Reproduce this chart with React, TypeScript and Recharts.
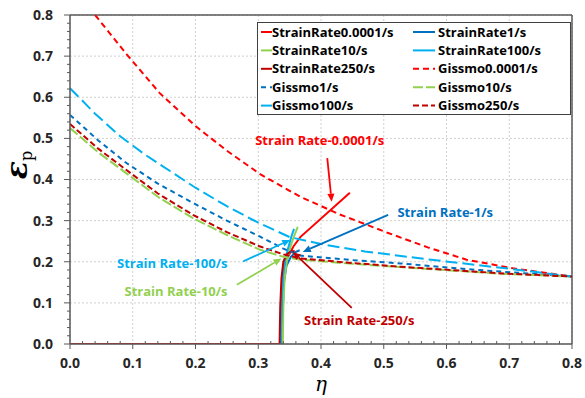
import React from 'react';
import {
  LineChart,
  Line,
  XAxis,
  YAxis,
  CartesianGrid,
  ReferenceLine,
  ReferenceDot,
} from 'recharts';

type Row = [number, number];

// Colours of the five strain rates
const RED = '#FF0000';
const BLUE = '#0070C0';
const GREEN = '#92D050';
const LIGHT_BLUE = '#00B0F0';
const DARK_RED = '#C00000';
const AXIS = '#595959';

// Measured strain paths: [stress triaxiality η, plastic strain εp]
const pathRate0001: Row[] = [
  [0, 0], [0.335, 0], [0.336, 0.06], [0.337, 0.13], [0.34, 0.18], [0.345, 0.205],
  [0.356, 0.237], [0.367, 0.26], [0.446, 0.368],
];
const pathRate1: Row[] = [
  [0.338, 0], [0.339, 0.08], [0.341, 0.15], [0.345, 0.19], [0.352, 0.212], [0.36, 0.224], [0.366, 0.228],
];
const pathRate10: Row[] = [
  [0.339, 0], [0.34, 0.09], [0.342, 0.16], [0.346, 0.205], [0.352, 0.24], [0.357, 0.262], [0.363, 0.285],
];
const pathRate100: Row[] = [
  [0.336, 0], [0.337, 0.09], [0.339, 0.16], [0.343, 0.205], [0.348, 0.235], [0.353, 0.262], [0.357, 0.28],
];
const pathRate250: Row[] = [
  [0.334, 0], [0.335, 0.09], [0.337, 0.16], [0.34, 0.2], [0.345, 0.218], [0.352, 0.225], [0.358, 0.226],
];

// GISSMO failure curves: [η, failure strain]
const gissmo0001: Row[] = [
  [0.04, 0.8], [0.09, 0.705], [0.143, 0.61], [0.2, 0.53], [0.25, 0.47], [0.303, 0.413],
  [0.367, 0.358], [0.43, 0.315], [0.507, 0.27], [0.57, 0.235], [0.632, 0.205], [0.706, 0.184], [0.8, 0.164],
];
const gissmo1: Row[] = [
  [0, 0.557], [0.045, 0.495], [0.09, 0.44], [0.14, 0.39], [0.196, 0.343], [0.25, 0.3], [0.303, 0.261],
  [0.34, 0.232], [0.367, 0.215], [0.45, 0.204], [0.526, 0.196], [0.65, 0.18], [0.8, 0.164],
];
const gissmo10: Row[] = [
  [0, 0.525], [0.045, 0.466], [0.09, 0.415], [0.14, 0.358], [0.196, 0.306], [0.25, 0.265], [0.303, 0.229],
  [0.34, 0.212], [0.367, 0.205], [0.45, 0.195], [0.526, 0.187], [0.685, 0.171], [0.8, 0.164],
];
const gissmo100: Row[] = [
  [0, 0.622], [0.04, 0.56], [0.08, 0.505], [0.12, 0.46], [0.16, 0.42], [0.2, 0.38], [0.25, 0.335],
  [0.3, 0.295], [0.35, 0.26], [0.4, 0.243], [0.47, 0.225], [0.58, 0.204], [0.7, 0.183], [0.8, 0.164],
];
const gissmo250: Row[] = [
  [0, 0.535], [0.045, 0.475], [0.09, 0.423], [0.14, 0.366], [0.196, 0.314], [0.25, 0.272], [0.303, 0.237],
  [0.34, 0.218], [0.367, 0.208], [0.45, 0.197], [0.526, 0.188], [0.685, 0.172], [0.8, 0.164],
];

// Axis tick values
const MAJOR_TICKS = [0, 0.1, 0.2, 0.3, 0.4, 0.5, 0.6, 0.7, 0.8];
const MINOR_PER_MAJOR = 5;

type Series = { name: string; color: string; dash?: string; rows: Row[] };

const SERIES: Series[] = [
  { name: 'StrainRate0.0001/s', color: RED, rows: pathRate0001 },
  { name: 'StrainRate1/s', color: BLUE, rows: pathRate1 },
  { name: 'StrainRate10/s', color: GREEN, rows: pathRate10 },
  { name: 'StrainRate100/s', color: LIGHT_BLUE, rows: pathRate100 },
  { name: 'StrainRate250/s', color: DARK_RED, rows: pathRate250 },
  { name: 'Gissmo0.0001/s', color: RED, dash: '6 4', rows: gissmo0001 },
  { name: 'Gissmo1/s', color: BLUE, dash: '5 4', rows: gissmo1 },
  { name: 'Gissmo10/s', color: GREEN, dash: '10 3', rows: gissmo10 },
  { name: 'Gissmo100/s', color: LIGHT_BLUE, dash: '12 5', rows: gissmo100 },
  { name: 'Gissmo250/s', color: DARK_RED, dash: '6 3', rows: gissmo250 },
];

// Callouts: text centre, arrow tail and arrow tip, all in data units
type Callout = { text: string; color: string; at: Row; tail: Row; tip: Row };
const CALLOUTS: Callout[] = [
  { text: 'Strain Rate-0.0001/s', color: RED, at: [0.398, 0.494], tail: [0.41, 0.452], tip: [0.417, 0.346] },
  { text: 'Strain Rate-1/s', color: BLUE, at: [0.598, 0.319], tail: [0.507, 0.314], tip: [0.371, 0.224] },
  { text: 'Strain Rate-100/s', color: LIGHT_BLUE, at: [0.163, 0.197], tail: [0.276, 0.201], tip: [0.351, 0.253] },
  { text: 'Strain Rate-10/s', color: GREEN, at: [0.169, 0.127], tail: [0.266, 0.144], tip: [0.337, 0.208] },
  { text: 'Strain Rate-250/s', color: DARK_RED, at: [0.461, 0.058], tail: [0.449, 0.088], tip: [0.355, 0.224] },
];

const FONT = "'Open Sans', sans-serif";

const toPoints = (rows: Row[]) => rows.map(([x, y]) => ({ x, y }));

const allTicks: number[] = [];
for (let i = 0; i < MAJOR_TICKS.length - 1; i++) {
  const a = MAJOR_TICKS[i];
  const step = (MAJOR_TICKS[i + 1] - a) / MINOR_PER_MAJOR;
  for (let k = 0; k < MINOR_PER_MAJOR; k++) allTicks.push(Math.round((a + k * step) * 1000) / 1000);
}
allTicks.push(MAJOR_TICKS[MAJOR_TICKS.length - 1]);

const isMajor = (v: number) => MAJOR_TICKS.some((m) => Math.abs(m - v) < 1e-6);

const YTick = (props: any) => {
  const { x, y, payload } = props;
  const major = isMajor(payload.value);
  return (
    <g>
      <line x1={x - (major ? 6 : 3)} x2={x} y1={y} y2={y} stroke={AXIS} strokeWidth={1} />
      {major && (
        <text x={x - 17} y={y} dy="0.35em" textAnchor="end" fontFamily={FONT} fontWeight={700} fontSize={14} fill="#262626">
          {payload.value.toFixed(1)}
        </text>
      )}
    </g>
  );
};

const XTick = (props: any) => {
  const { x, y, payload } = props;
  const major = isMajor(payload.value);
  return (
    <g>
      {major ? (
        <line x1={x} x2={x} y1={y} y2={y + 5} stroke={AXIS} strokeWidth={1} />
      ) : (
        <line x1={x} x2={x} y1={y - 3} y2={y} stroke={AXIS} strokeWidth={1} />
      )}
      {major && (
        <text x={x} y={y + 19} dy="0.35em" textAnchor="middle" fontFamily={FONT} fontWeight={700} fontSize={14} fill="#262626">
          {payload.value.toFixed(1)}
        </text>
      )}
    </g>
  );
};

const XLabel = (props: any) => {
  const vb = props.viewBox;
  return (
    <text x={vb.x + vb.width / 2} y={391} textAnchor="middle" fontFamily="'DejaVu Serif', serif" fontStyle="italic" fontSize={20} fill="#000">
      η
    </text>
  );
};

const YLabel = () => (
  <text
    x={27}
    y={165}
    transform="rotate(-90, 27, 165)"
    textAnchor="middle"
    fontFamily="'DejaVu Serif', serif"
    fontStyle="italic"
    fontWeight={700}
    fontSize={30}
    fill="#000"
  >
    ε
    <tspan fontSize={16} fontStyle="normal" fontWeight={400} dy={5}>
      p
    </tspan>
  </text>
);

const Arrow = (color: string) => (props: any) => {
  const { x1, y1, x2, y2 } = props;
  const ang = Math.atan2(y2 - y1, x2 - x1);
  const len = 8;
  const half = 3.5;
  const bx = x2 - len * Math.cos(ang);
  const by = y2 - len * Math.sin(ang);
  const px = -Math.sin(ang) * half;
  const py = Math.cos(ang) * half;
  return (
    <g>
      <line x1={x1} y1={y1} x2={bx} y2={by} stroke={color} strokeWidth={1.8} />
      <polygon points={`${x2},${y2} ${bx + px},${by + py} ${bx - px},${by - py}`} fill={color} />
    </g>
  );
};

const CalloutText = (text: string, color: string) => (props: any) => (
  <text x={props.cx} y={props.cy} dy="0.35em" textAnchor="middle" fontFamily={FONT} fontWeight={700} fontSize={13} fill={color}>
    {text}
  </text>
);

const LegendBox = () => {
  const rows = [0, 1, 2, 3, 4];
  const rowY = (r: number) => 10 + r * 18.4;
  return (
    <svg
      width={314}
      height={93}
      style={{ position: 'absolute', left: 257, top: 22, background: '#fff', overflow: 'visible' }}
    >
      <rect x={0.5} y={0.5} width={313} height={92} fill="#fff" stroke="#404040" strokeWidth={1} />
      {rows.map((r) =>
        [0, 1].map((c) => {
          const s = SERIES[r * 2 + c];
          const lx1 = c === 0 ? 4 : 156;
          const lx2 = c === 0 ? 15 : 178;
          const tx = c === 0 ? 15 : 181;
          return (
            <g key={s.name}>
              <line
                x1={lx1}
                x2={lx2}
                y1={rowY(r)}
                y2={rowY(r)}
                stroke={s.color}
                strokeWidth={2}
                strokeDasharray={s.dash}
              />
              <text x={tx} y={rowY(r)} dy="0.35em" fontFamily={FONT} fontWeight={700} fontSize={13} fill="#000">
                {s.name}
              </text>
            </g>
          );
        })
      )}
    </svg>
  );
};

export default function App() {
  return (
    <div style={{ position: 'absolute', left: 0, top: 0, width: 585, height: 398, background: '#fff' }}>
      <LineChart width={585} height={398} margin={{ top: 15, right: 13, bottom: 24, left: 10 }}>
        <CartesianGrid
          stroke="#D0D0D0"
          strokeDasharray="2 2"
          horizontalValues={MAJOR_TICKS}
          verticalValues={MAJOR_TICKS}
        />
        <XAxis
          dataKey="x"
          type="number"
          domain={[0, 0.8]}
          ticks={allTicks}
          interval={0}
          allowDataOverflow
          height={30}
          tickSize={0}
          tickMargin={0}
          tickLine={false}
          tick={<XTick />}
          axisLine={{ stroke: AXIS, strokeWidth: 1.5 }}
          label={<XLabel />}
        />
        <YAxis
          type="number"
          domain={[0, 0.8]}
          ticks={allTicks}
          interval={0}
          allowDataOverflow
          width={60}
          tickSize={0}
          tickMargin={0}
          tickLine={false}
          tick={<YTick />}
          axisLine={{ stroke: AXIS, strokeWidth: 1.5 }}
          label={<YLabel />}
        />
        <ReferenceLine y={0.8} stroke={AXIS} strokeWidth={1.5} />
        <ReferenceLine x={0.8} stroke={AXIS} strokeWidth={1.5} />
        {SERIES.map((s) => (
          <Line
            key={s.name}
            name={s.name}
            data={toPoints(s.rows)}
            dataKey="y"
            type="linear"
            stroke={s.color}
            strokeWidth={2}
            strokeDasharray={s.dash}
            dot={false}
            activeDot={false}
            isAnimationActive={false}
          />
        ))}
        {CALLOUTS.map((c) => (
          <ReferenceLine
            key={`arrow-${c.text}`}
            segment={[
              { x: c.tail[0], y: c.tail[1] },
              { x: c.tip[0], y: c.tip[1] },
            ]}
            ifOverflow="visible"
            shape={Arrow(c.color)}
          />
        ))}
        {CALLOUTS.map((c) => (
          <ReferenceDot
            key={`text-${c.text}`}
            x={c.at[0]}
            y={c.at[1]}
            r={0}
            ifOverflow="visible"
            shape={CalloutText(c.text, c.color)}
          />
        ))}
      </LineChart>
      <LegendBox />
    </div>
  );
}
